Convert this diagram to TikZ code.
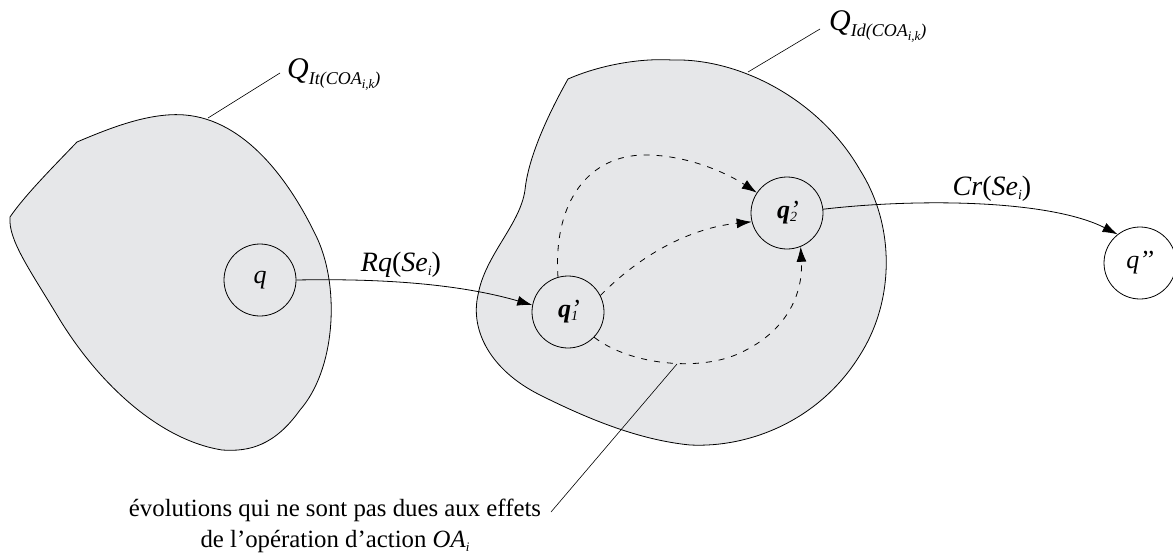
\documentclass[tikz,border=0pt]{standalone}
\usepackage{fontspec}
\setmainfont{Liberation Serif}
\usetikzlibrary{arrows.meta}
\definecolor{blobgray}{RGB}{230,231,233}
\newcommand\qprime[1]{\textbf{\textit{q}}\rlap{’}\raisebox{-3pt}{\fontsize{14}{14}\selectfont\itshape #1}}
\tikzset{
  blob/.style={fill=blobgray, draw=black, line width=0.8pt},
  state/.style={circle, draw=black, line width=0.8pt, minimum size=72pt, inner sep=0pt,
    font=\fontsize{26}{26}\selectfont\itshape},
  trans/.style={line width=0.8pt, -{Latex[length=15pt,width=10pt]}},
  evol/.style={line width=0.8pt, dash pattern=on 6pt off 7pt, -{Latex[length=15pt,width=10pt]}},
  leader/.style={line width=0.6pt},
  lbl/.style={font=\fontsize{28}{28}\selectfont, inner sep=0pt, anchor=base},
  setlbl/.style={font=\fontsize{30}{30}\selectfont\itshape, inner sep=0pt, anchor=base west},
  note/.style={font=\fontsize{24.8}{31}\selectfont, align=center, inner sep=0pt, anchor=north},
}
\begin{document}
\begin{tikzpicture}[x=1pt, y=-1pt]
\useasboundingbox (0,0) rectangle (1173,554);
% left region
\path[blob] (10,217) .. controls (25,195) and (55,165) .. (77,142)
  .. controls (110,128) and (150,112) .. (185,115)
  .. controls (245,120) and (290,180) .. (318,240)
  .. controls (340,290) and (335,370) .. (300,410)
  .. controls (275,445) and (250,452) .. (222,450)
  .. controls (160,440) and (100,385) .. (60,320)
  .. controls (30,270) and (8,240) .. (10,217) -- cycle;
% right region
\path[blob] (568,79) .. controls (600,65) and (640,58) .. (672,60)
  .. controls (740,58) and (820,100) .. (860,170)
  .. controls (895,225) and (895,300) .. (860,355)
  .. controls (820,420) and (750,448) .. (690,445)
  .. controls (640,440) and (590,420) .. (540,395)
  .. controls (490,370) and (470,330) .. (478,295)
  .. controls (485,255) and (520,225) .. (525,190)
  .. controls (528,160) and (545,120) .. (568,79) -- cycle;
% states
\node[state] (q) at (260,280) {q};
\node[state] (q1) at (568,312) {\qprime{1}};
\node[state] (q2) at (787,213) {\qprime{2}};
\node[state] (qpp) at (1140,263) {q’’};
% set labels and leaders
\coordinate (lA) at (208,118);
\coordinate (lAend) at (280,73);
\coordinate (lB) at (748,72);
\coordinate (lBend) at (820,29);
\draw[leader] (lA) -- (lAend);
\draw[leader] (lB) -- (lBend);
\node[setlbl] (QIt) at (287,78) {Q\raisebox{-6pt}{\fontsize{18}{18}\selectfont It(COA\raisebox{-4pt}{\fontsize{13}{13}\selectfont i,k})}};
\node[setlbl] (QId) at (829,30) {Q\raisebox{-6pt}{\fontsize{18}{18}\selectfont Id(COA\raisebox{-4pt}{\fontsize{13}{13}\selectfont i,k})}};
% transitions
\draw[trans] (q.east) .. controls (400,278) and (470,287) .. (q1.169);
\node[lbl] (rq) at (401,271) {\textit{Rq}(\textit{Se}\raisebox{-4pt}{\fontsize{14}{14}\selectfont\itshape i})};
\draw[trans] (q2.6) .. controls (920,198) and (1050,200) .. (qpp.128);
\node[lbl] (cr) at (992,195) {\textit{Cr}(\textit{Se}\raisebox{-4pt}{\fontsize{14}{14}\selectfont\itshape i})};
% evolutions
\draw[evol] (q1.106) .. controls (553,200) and (590,155) .. (645,155)
  .. controls (690,155) and (730,175) .. (q2.146);
\draw[evol] (q1.27) .. controls (640,255) and (690,228) .. (q2.194);
\draw[evol] (q1.-44) .. controls (630,365) and (700,372) .. (740,353)
  .. controls (790,330) and (803,290) .. (q2.-68);
% note
\coordinate (ev) at (677,364);
\coordinate (evend) at (551,512);
\draw[leader] (ev) -- (evend);
\node[note] (txt) at (335,499) {évolutions qui ne sont pas dues aux effets\\de l’opération d’action \textit{OA}\raisebox{-4pt}{\fontsize{13}{13}\selectfont\itshape i}};
\end{tikzpicture}
\end{document}
